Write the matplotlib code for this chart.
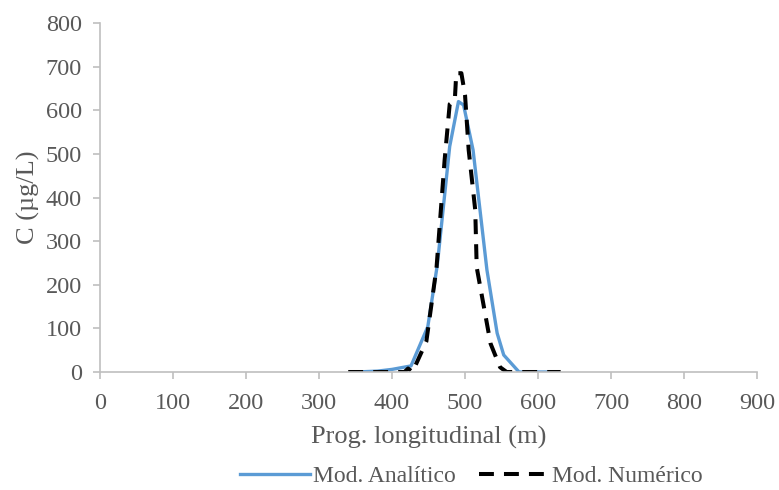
import matplotlib
matplotlib.use('Agg')
import matplotlib.pyplot as plt

# Mod. Analítico (blue solid)
x_ana = [350, 380, 400, 426, 449, 462, 479, 491, 498, 511, 530, 544, 553, 574, 600, 625]
c_ana = [0, 2, 6, 14, 104, 245, 517, 620, 612, 509, 234, 89, 39, 0, 0, 0]

# Mod. Numérico (black dashed)
x_num = [340, 380, 417, 422, 428, 447, 461, 472, 479, 486, 488, 495, 500, 505, 514, 516,
         525, 535, 548, 557, 600, 631]
c_num = [0, 0, 0, 8, 0, 70, 240, 485, 614, 623, 685, 685, 635, 509, 371, 240,
         157, 65, 11, 0, 0, 0]

x_ticks = list(range(0, 901, 100))
y_ticks = list(range(0, 801, 100))

plt.rcParams['font.family'] = ['Liberation Serif', 'DejaVu Serif']
txt = '#595959'
grey = '#bfbfbf'

fig = plt.figure(figsize=(7.79, 4.9), dpi=100)
ax = fig.add_axes([0.1284, 0.2408, 0.8434, 0.7122])

ax.plot(x_ana, c_ana, color='#5b9bd5', lw=2.4, label='Mod. Analítico')
ax.plot(x_num, c_num, color='black', lw=2.9, ls=(0, (3.7, 2.5)), label='Mod. Numérico')

ax.set_xlim(0, 900)
ax.set_ylim(0, 800)
ax.set_xticks(x_ticks)
ax.set_yticks(y_ticks)

for s in ['top', 'right']:
    ax.spines[s].set_visible(False)
for s in ['left', 'bottom']:
    ax.spines[s].set_color(grey)
    ax.spines[s].set_linewidth(1.2)

ax.tick_params(axis='both', colors=grey, labelcolor=txt, labelsize=17.5,
               length=5, width=1.2)
ax.tick_params(axis='x', pad=10)
ax.tick_params(axis='y', pad=8)

ax.set_xlabel('Prog. longitudinal (m)', color=txt, fontsize=19, labelpad=9)
ax.set_ylabel('C (µg/L)', color=txt, fontsize=19, labelpad=4)

leg = fig.legend(loc='lower center', bbox_to_anchor=(0.605, -0.026), ncol=2,
                 frameon=False, fontsize=17, handlelength=3.0, columnspacing=1.0,
                 handletextpad=0.1, borderpad=0.15)
for t in leg.get_texts():
    t.set_color(txt)

fig.savefig('out.png', dpi=100)
